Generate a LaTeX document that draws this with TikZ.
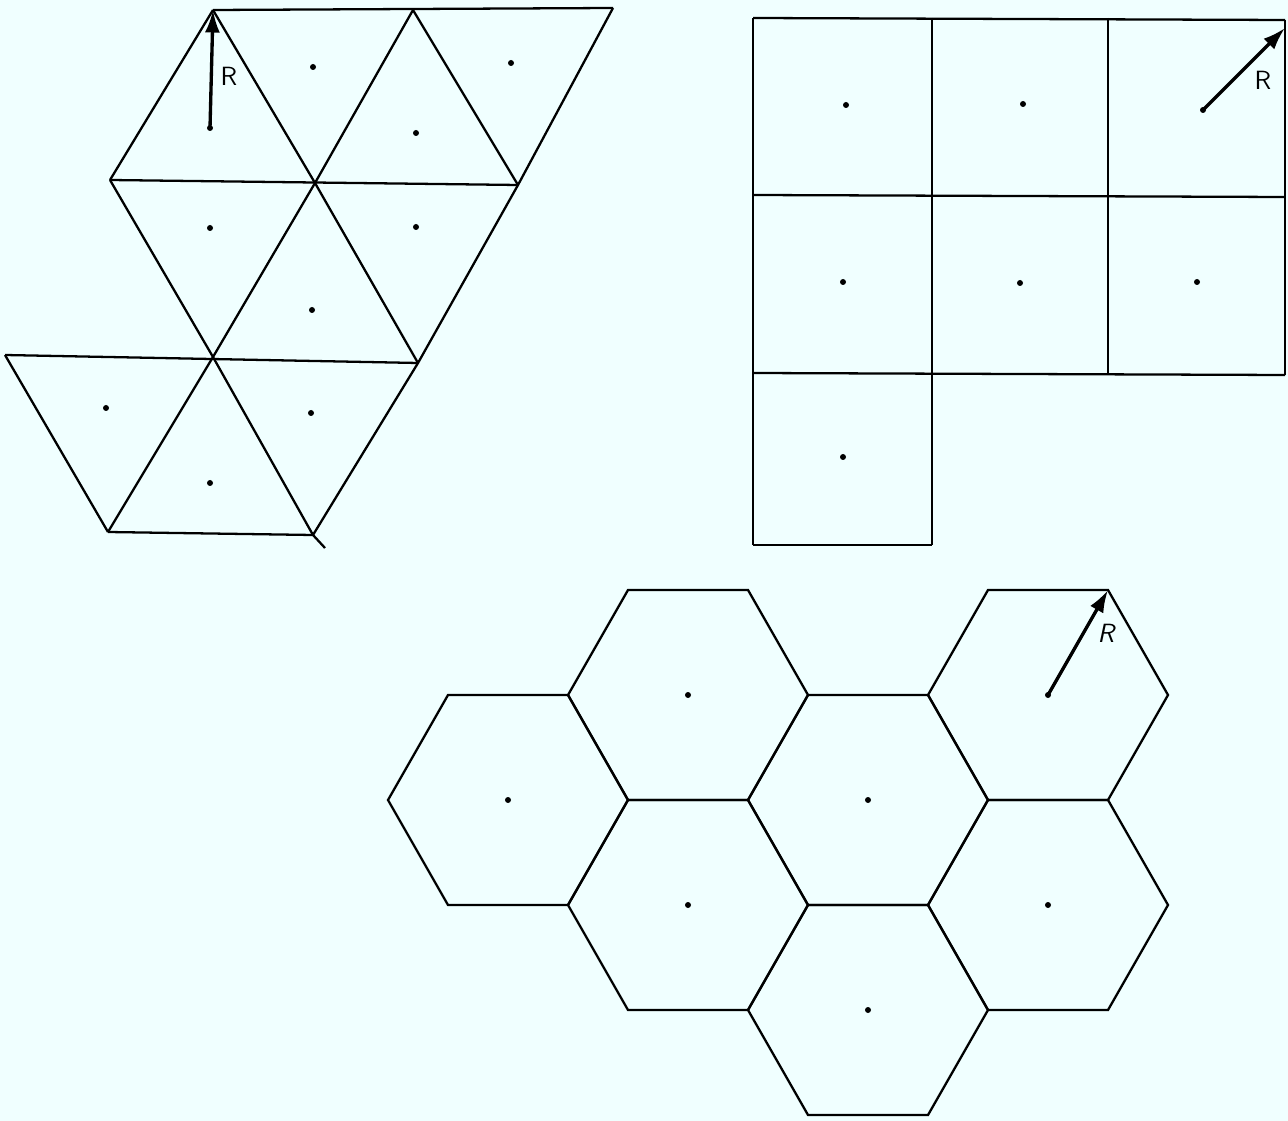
\documentclass[tikz,border=0pt]{standalone}
\usepackage{tikz}
\usetikzlibrary{positioning, calc}
\usetikzlibrary{arrows.meta}
\definecolor{paper}{RGB}{240,255,255}

\begin{document}
\begin{tikzpicture}[x=0.02cm,y=-0.02cm,line width=1.3pt,draw=black!100]
	\def \hexw{120}
	\def \hexh{105}
	\tikzstyle{c-dot}=[circle,fill=black,inner sep=0pt,minimum size=1.2mm]
	\tikzstyle{r-arrow}=[-{Latex[length=4.5mm,width=3mm]},line width=1.9pt]
	\tikzstyle{r-label}=[font=\fontsize{15}{18}\sffamily,inner sep=0pt]
	% paper
	\fill[paper] (0,0) rectangle (1288,1121);
	\useasboundingbox (0,0) rectangle (1288,1121);

	% triangle lattice
	\coordinate (a1) at (213,10);
	\coordinate (a2) at (413,10);
	\coordinate (a3) at (613,8);
	\coordinate (b1) at (110,180);
	\coordinate (b2) at (315,183);
	\coordinate (b3) at (518,185);
	\coordinate (c1) at (5,355);
	\coordinate (c2) at (213,357);
	\coordinate (c3) at (418,363);
	\coordinate (d1) at (108,532);
	\coordinate (d2) at (313,535);
	\coordinate (d3) at (325,548);
	\draw (a1) -- (a3);
	\draw (b1) -- (b3);
	\draw (c1) -- (c3);
	\draw (d1) -- (d2);
	\draw (a1) -- (b1);
	\draw (a1) -- (b2) -- (c3);
	\draw (a2) -- (b3);
	\draw (b1) -- (c2) -- (d2) -- (d3);
	\draw (c1) -- (d1);
	\draw (a2) -- (b2) -- (c2) -- (d1);
	\draw (a3) -- (b3) -- (c3) -- (d2);
	\node[c-dot] (t1)  at (210,128) {};
	\node[c-dot] (t2)  at (313,67)  {};
	\node[c-dot] (t3)  at (416,133) {};
	\node[c-dot] (t4)  at (511,63)  {};
	\node[c-dot] (t5)  at (210,228) {};
	\node[c-dot] (t6)  at (312,310) {};
	\node[c-dot] (t7)  at (416,227) {};
	\node[c-dot] (t8)  at (106,408) {};
	\node[c-dot] (t9)  at (210,483) {};
	\node[c-dot] (t10) at (311,413) {};
	\draw[r-arrow] (t1.center) -- (a1);
	\node[r-label] (t-R) at (229,76) {R};

	% square lattice
	\draw (753,18) -- (1285,20);
	\draw (753,195) -- (1285,197);
	\draw (753,373) -- (1285,375);
	\draw (753,545) -- (932,545);
	\draw (753,18) -- (753,545);
	\draw (932,18) -- (932,545);
	\draw (1108,18) -- (1108,375);
	\draw (1285,20) -- (1285,375);
	\coordinate (s-corner) at (1285,28);
	\node[c-dot] (s1) at (846,105) {};
	\node[c-dot] (s2) at (1023,104) {};
	\node[c-dot] (s3) at (1203,110) {};
	\node[c-dot] (s4) at (843,282) {};
	\node[c-dot] (s5) at (1020,283) {};
	\node[c-dot] (s6) at (1197,282) {};
	\node[c-dot] (s7) at (843,457) {};
	\draw[r-arrow] (s3.center) -- (s-corner);
	\node[r-label] (s-R) at (1263,80) {R};

	% hexagonal lattice
	\node[c-dot] (h1) at (508,800)  {};
	\node[c-dot] (h2) at (688,695)  {};
	\node[c-dot] (h3) at (688,905)  {};
	\node[c-dot] (h4) at (868,800)  {};
	\node[c-dot] (h5) at (868,1010) {};
	\node[c-dot] (h6) at (1048,695) {};
	\node[c-dot] (h7) at (1048,905) {};
	\foreach \h in {h1,h2,h3,h4,h5,h6,h7}
		\draw ($(\h.center)+(\hexw,0)$) -- ++(-\hexw/2,-\hexh) -- ++(-\hexw,0)
			-- ++(-\hexw/2,\hexh) -- ++(\hexw/2,\hexh) -- ++(\hexw,0) -- cycle;
	\coordinate (h-corner) at ($(h6.center)+(\hexw/2,-\hexh)$);
	\draw[r-arrow] (h6.center) -- (h-corner);
	\node[r-label,font=\fontsize{15}{18}\sffamily\itshape] (h-R) at (1106,633) {R};
\end{tikzpicture}
\end{document}
